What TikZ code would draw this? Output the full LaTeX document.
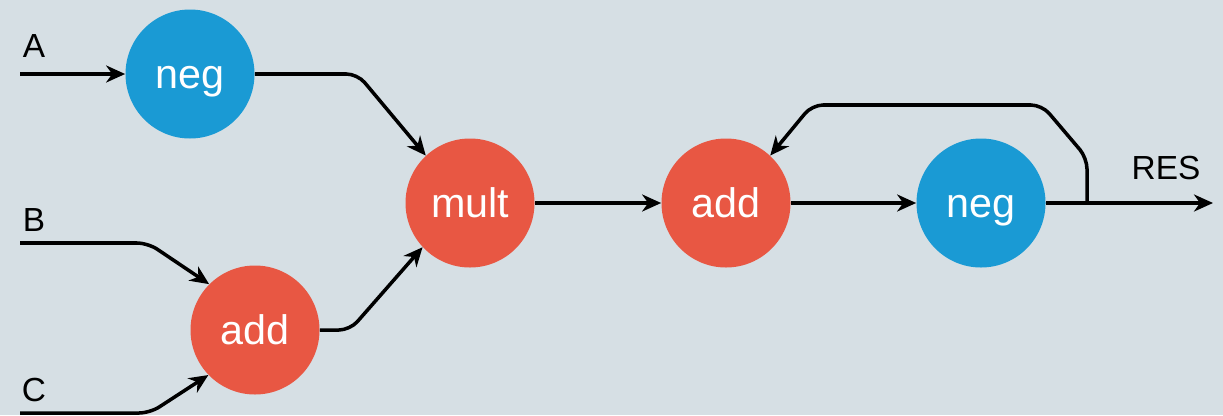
\documentclass[tikz,border=0pt]{standalone}
\usepackage{fontspec}
\setmainfont{Liberation Sans}
\usetikzlibrary{arrows.meta}

\definecolor{opblue}{HTML}{1A9AD4}
\definecolor{opred}{HTML}{E85743}
\definecolor{bggray}{HTML}{D6DFE4}

\tikzset{
  op/.style={circle, inner sep=0pt, minimum size=2.58cm, text=white, text height=16.5pt, text depth=0pt, font=\fontsize{23.5}{23.5}\selectfont},
  negop/.style={op, fill=opblue},
  arop/.style={op, fill=opred},
  wire/.style={line width=2pt, rounded corners=0.22cm, -{Stealth[length=3.8mm,width=3.4mm,inset=1.2mm]}},
  lbl/.style={font=\fontsize{19}{19}\selectfont, inner sep=0pt}
}

\begin{document}
\begin{tikzpicture}
    \fill[bggray] (0,0) rectangle (24.46,8.3);
    \useasboundingbox (0,0) rectangle (24.46,8.3);

    \node[negop] (neg1) at (3.8,6.82) {neg};
    \node[arop] (add1) at (5.1,1.7) {add};
    \node[arop] (mult) at (9.4,4.24) {mult};
    \node[arop] (add2) at (14.52,4.24) {add};
    \node[negop] (neg2) at (19.62,4.24) {neg};

    % inputs and output
    \coordinate (inA) at (0.4,6.82);
    \coordinate (inB) at (0.4,3.44);
    \coordinate (inC) at (0.4,0.04);
    \coordinate (split) at (21.74,4.24);
    \coordinate (out) at (24.26,4.24);

    \node[lbl] (labA) at (0.68,7.38) {A};
    \node[lbl] (labB) at (0.68,3.9) {B};
    \node[lbl] (labC) at (0.68,0.5) {C};
    \node[lbl] (labRES) at (23.32,4.94) {RES};

    \draw[wire] (inA) -- (neg1);
    \draw[wire] (inB) -- (2.96,3.44) -- (add1.135);
    \draw[wire] (inC) -- (3.0,0.04) -- (add1.-136);
    \draw[wire] (neg1) -- (7.15,6.82) -- (mult.133);
    \draw[wire] (add1) -- (7.0,1.7) -- (mult.-137);
    \draw[wire] (mult) -- (add2);
    \draw[wire] (add2) -- (neg2);
    \draw[wire] (neg2) -- (out);
    \draw[wire] (split) -- (21.74,5.14) -- (20.84,6.2) -- (16.24,6.2) -- (add2.47);

\end{tikzpicture}
\end{document}
